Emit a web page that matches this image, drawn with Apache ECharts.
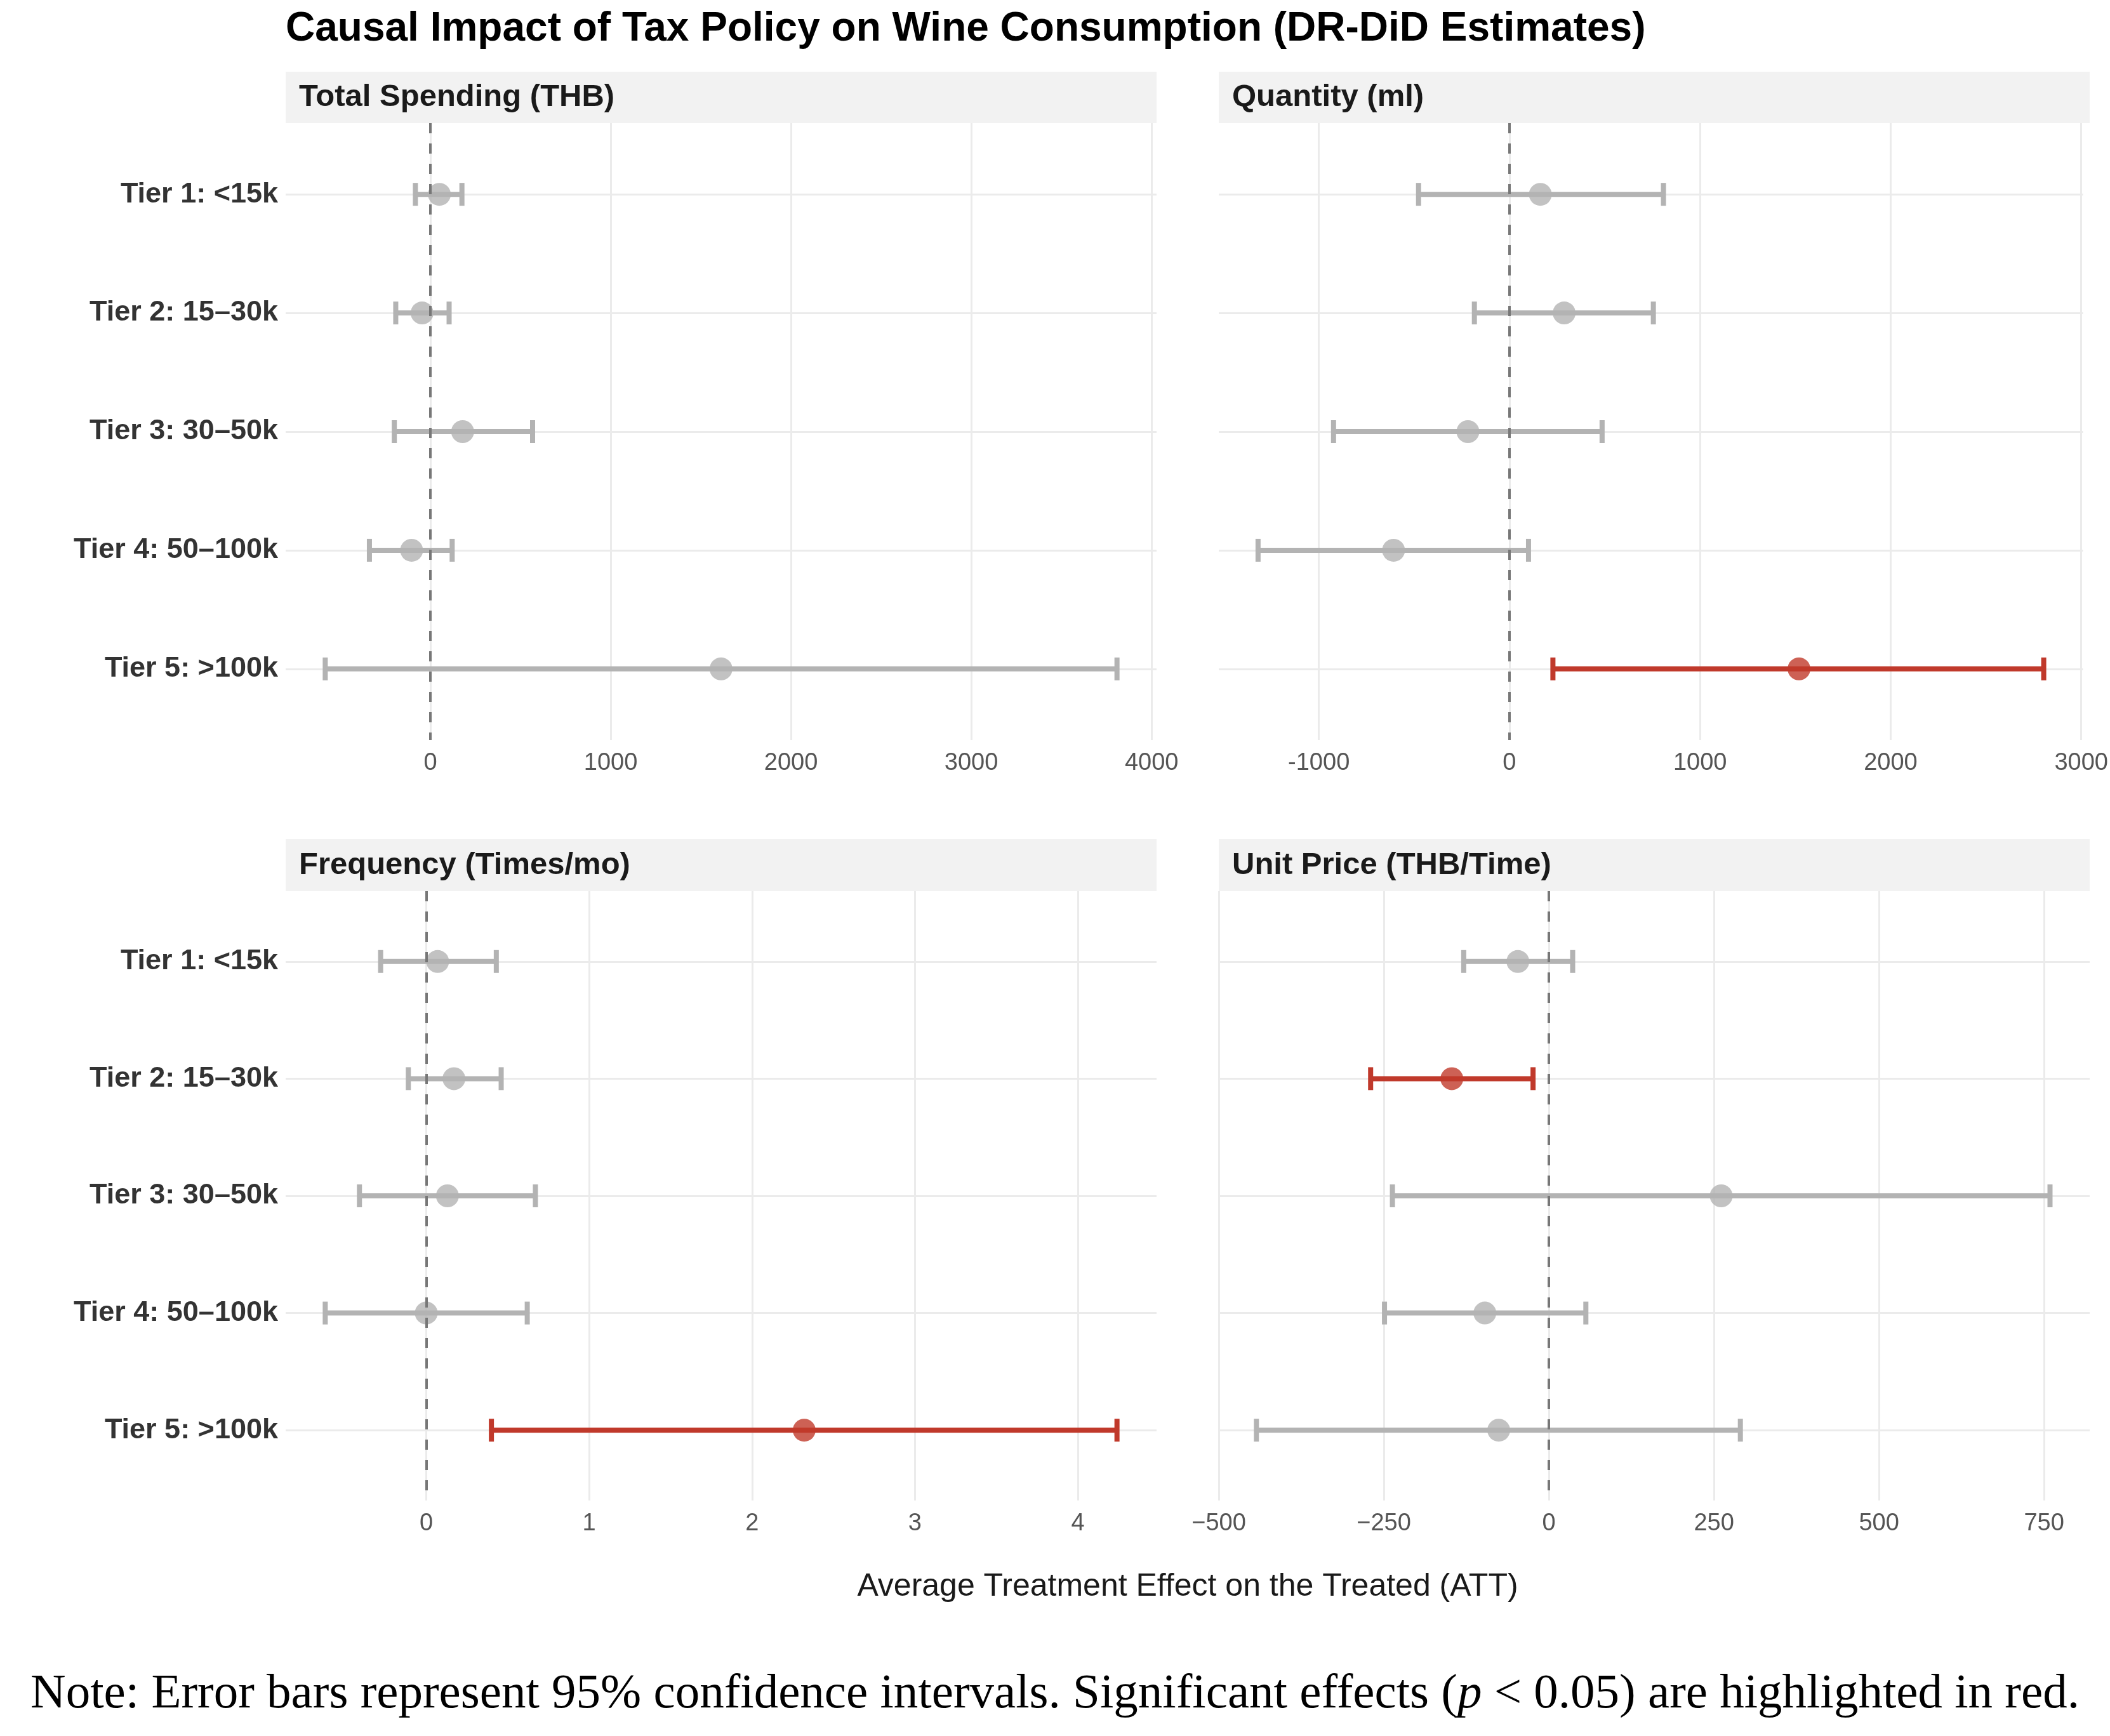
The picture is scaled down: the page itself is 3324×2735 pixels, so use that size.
<!DOCTYPE html>
<html>
<head>
<meta charset="utf-8">
<script src="https://cdn.jsdelivr.net/npm/echarts@6/dist/echarts.min.js"></script>
<style>
  html, body { margin: 0; padding: 0; background: #fff; }
  #chart { width: 3324px; height: 2735px; }
</style>
</head>
<body>
<div id="chart"></div>
<script>
// tiers, top to bottom
var tiers = ['Tier 1: <15k', 'Tier 2: 15–30k', 'Tier 3: 30–50k', 'Tier 4: 50–100k', 'Tier 5: >100k'];

// Total Spending (THB)
var spendEst = [50, -46, 179, -104, 1612];
var spendLo  = [-83, -192, -200, -338, -583];
var spendHi  = [175, 104, 567, 121, 3808];
var spendSig = [0, 0, 0, 0, 0];

// Quantity (ml)
var qtyEst = [162, 287, -218, -608, 1519];
var qtyLo  = [-477, -184, -923, -1319, 228];
var qtyHi  = [808, 755, 486, 100, 2803];
var qtySig = [0, 0, 0, 0, 1];

// Frequency (Times/mo)
var freqEst = [0.07, 0.17, 0.13, 0.0, 2.32];
var freqLo  = [-0.28, -0.11, -0.41, -0.62, 0.40];
var freqHi  = [0.43, 0.46, 0.67, 0.62, 4.24];
var freqSig = [0, 0, 0, 0, 1];

// Unit Price (THB/Time)
var priceEst = [-47, -147, 261, -97, -76];
var priceLo  = [-129, -270, -237, -249, -443];
var priceHi  = [36, -24, 759, 56, 290];
var priceSig = [0, 1, 0, 0, 0];

var GREY = '#b3b3b3', RED = '#c0392b';
var FONT = "'Liberation Sans', Arial, sans-serif";

var panels = [
  {name: 'Total Spending (THB)', est: spendEst, lo: spendLo, hi: spendHi, sig: spendSig,
   left: 450, top: 194, h: 972, stripTop: 113, showY: true},
  {name: 'Quantity (ml)', est: qtyEst, lo: qtyLo, hi: qtyHi, sig: qtySig,
   left: 1920, top: 194, h: 972, stripTop: 113, showY: false},
  {name: 'Frequency (Times/mo)', est: freqEst, lo: freqLo, hi: freqHi, sig: freqSig,
   left: 450, top: 1404, h: 960, stripTop: 1322, showY: true},
  {name: 'Unit Price (THB/Time)', est: priceEst, lo: priceLo, hi: priceHi, sig: priceSig,
   left: 1920, top: 1404, h: 960, stripTop: 1322, showY: false, minus: true, fixMin: -500, interval: 250}
];
var PW = 1372;

function renderErr(params, api) {
  var y = api.value(2);
  var a = api.coord([api.value(0), y]);
  var b = api.coord([api.value(1), y]);
  var h = 18;
  var st = {stroke: api.value(3) ? RED : GREY, lineWidth: 8};
  return {type: 'group', children: [
    {type: 'line', shape: {x1: a[0], y1: a[1], x2: b[0], y2: b[1]}, style: st},
    {type: 'line', shape: {x1: a[0], y1: a[1] - h, x2: a[0], y2: a[1] + h}, style: st},
    {type: 'line', shape: {x1: b[0], y1: b[1] - h, x2: b[0], y2: b[1] + h}, style: st}
  ]};
}

var grids = [], xAxes = [], yAxes = [], series = [], graphics = [];

panels.forEach(function (p, i) {
  var mn = Math.min.apply(null, p.lo), mx = Math.max.apply(null, p.hi);
  var pad = (mx - mn) * 0.05;
  grids.push({left: p.left, top: p.top, width: PW, height: p.h});

  var xa = {
    type: 'value', gridIndex: i,
    min: p.fixMin !== undefined ? p.fixMin : mn - pad, max: mx + pad,
    axisLine: {show: false}, axisTick: {show: false},
    splitLine: {show: true, showMinLine: p.fixMin !== undefined, showMaxLine: false,
                lineStyle: {color: '#ebebeb', width: 3}},
    axisLabel: {
      fontFamily: FONT, fontSize: 38, color: '#555555', margin: 18,
      showMinLabel: p.fixMin !== undefined, showMaxLabel: false,
      formatter: function (v) {
        var s = String(v);
        return p.minus ? s.replace('-', '−') : s;
      }
    }
  };
  if (p.interval) xa.interval = p.interval;
  xAxes.push(xa);

  yAxes.push({
    type: 'value', gridIndex: i, inverse: true, min: 0.4, max: 5.6, splitNumber: 5,
    axisLine: {show: false}, axisTick: {show: false},
    splitLine: {show: true, showMinLine: false, showMaxLine: false,
                lineStyle: {color: '#ebebeb', width: 3}},
    axisLabel: {
      show: p.showY, fontFamily: FONT, fontSize: 45, fontWeight: 'bold', color: '#333333',
      margin: 12, showMinLabel: false, showMaxLabel: false,
      formatter: function (v) {
        return (Math.abs(v - Math.round(v)) < 1e-6 && v >= 1 && v <= 5) ? tiers[Math.round(v) - 1] : '';
      }
    }
  });

  var errData = [], ptData = [];
  for (var k = 0; k < tiers.length; k++) {
    errData.push([p.lo[k], p.hi[k], k + 1, p.sig[k]]);
    ptData.push({value: [p.est[k], k + 1], itemStyle: {color: p.sig[k] ? RED : GREY}});
  }

  series.push({
    type: 'custom', xAxisIndex: i, yAxisIndex: i, silent: true,
    renderItem: renderErr, encode: {x: [0, 1], y: 2}, data: errData, z: 3,
    markLine: {
      silent: true, symbol: ['none', 'none'], label: {show: false},
      lineStyle: {color: '#777777', width: 4, type: [16, 16]},
      data: [{xAxis: 0}]
    }
  });
  series.push({
    type: 'scatter', xAxisIndex: i, yAxisIndex: i, symbol: 'circle', symbolSize: 36,
    data: ptData, z: 4, silent: true
  });

  // facet strip
  graphics.push({type: 'rect', left: p.left, top: p.stripTop,
    shape: {width: PW, height: p.top - p.stripTop}, style: {fill: '#f2f2f2'}, z: -1});
  graphics.push({type: 'text', x: p.left + 21, y: p.stripTop + (p.top - p.stripTop) / 2,
    style: {text: p.name, font: 'bold 49px ' + FONT, fill: '#1a1a1a', verticalAlign: 'middle'}});
});

// x-axis title shared by all panels
graphics.push({type: 'text', x: 1871, y: 2500,
  style: {text: 'Average Treatment Effect on the Treated (ATT)', font: '50px ' + FONT,
          fill: '#1a1a1a', align: 'center', verticalAlign: 'middle'}});

// note below the figure
graphics.push({type: 'text', x: 1662, y: 2670,
  style: {
    text: '{n|Note: Error bars represent 95% confidence intervals. Significant effects (}{i|p}{n| < 0.05) are highlighted in red.}',
    align: 'center', verticalAlign: 'middle',
    rich: {
      n: {fontFamily: "'Liberation Serif', 'Times New Roman', serif", fontSize: 77, fill: '#000'},
      i: {fontFamily: "'Liberation Serif', 'Times New Roman', serif", fontSize: 77, fontStyle: 'italic', fill: '#000'}
    }
  }});

var myChart = echarts.init(document.getElementById('chart'));
option = {
  backgroundColor: '#fff',
  animation: false,
  title: {
    text: 'Causal Impact of Tax Policy on Wine Consumption (DR-DiD Estimates)',
    left: 450, top: 14, padding: 0,
    textStyle: {fontFamily: FONT, fontWeight: 'bold', fontSize: 64, color: '#000'}
  },
  grid: grids,
  xAxis: xAxes,
  yAxis: yAxes,
  series: series,
  graphic: graphics
};
myChart.setOption(option);
</script>
</body>
</html>
